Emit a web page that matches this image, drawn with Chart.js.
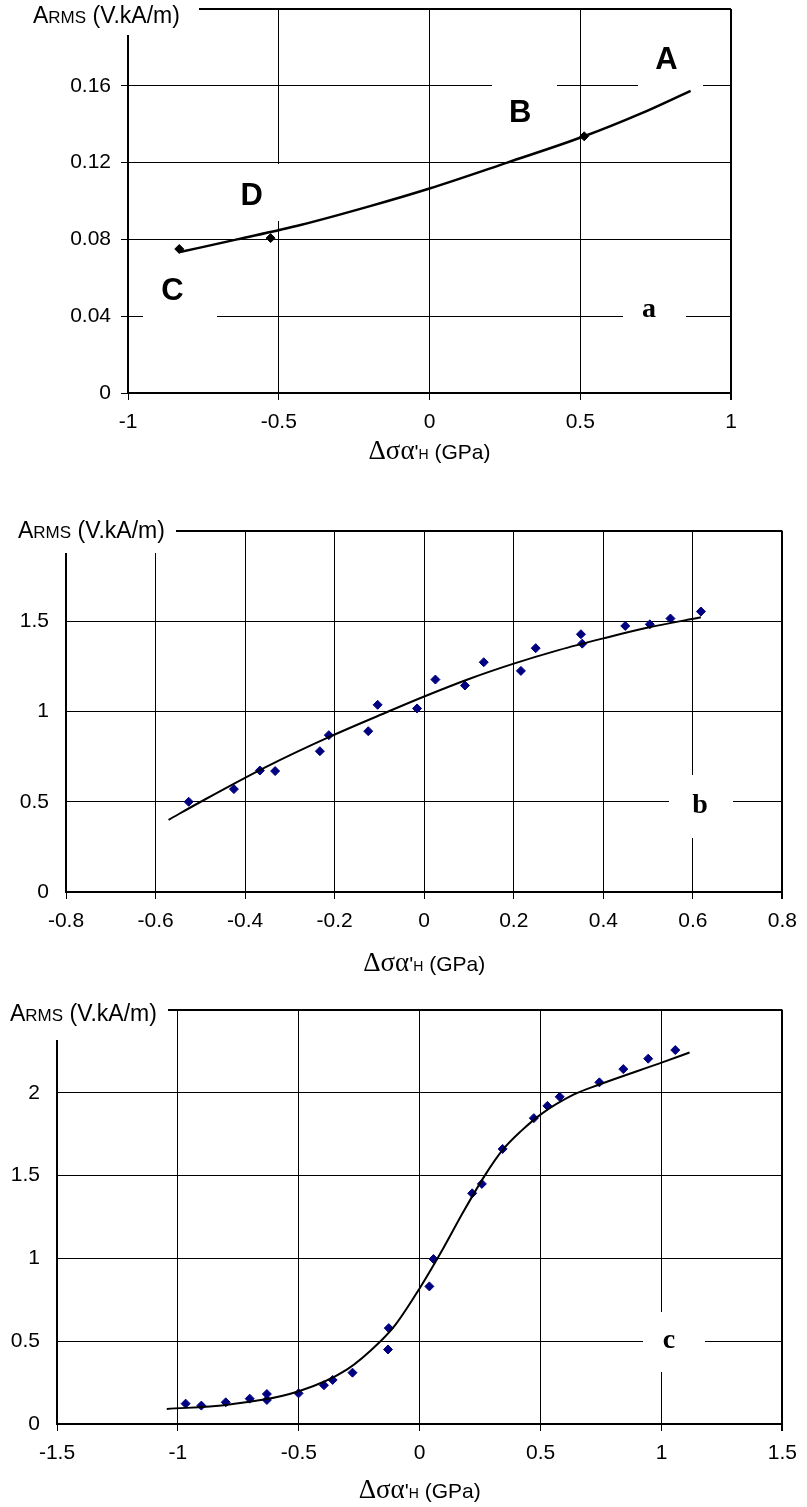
<!DOCTYPE html>
<html>
<head>
<meta charset="utf-8">
<script src="https://cdn.jsdelivr.net/npm/chart.js@4.4.1/dist/chart.umd.min.js"></script>
<style>
  html, body { margin: 0; padding: 0; background: #fff; }
  body { position: relative; width: 807px; height: 1507px; overflow: hidden; }
  canvas { position: absolute; left: 0; }
</style>
</head>
<body>
<canvas id="chart-a" width="807" height="510" style="top:-40px"></canvas>
<canvas id="chart-b" width="807" height="510" style="top:470px"></canvas>
<canvas id="chart-c" width="807" height="527" style="top:980px"></canvas>
<script>
// --- chart a ---
const aPointX = [-0.83, -0.527, 0.513];
const aPointY = [0.075, 0.0807, 0.1337];
const aCurveX = [-0.828, -0.638, -0.428, -0.2, 0, 0.258, 0.513, 0.7, 0.866];
const aCurveY = [0.0734, 0.080, 0.0875, 0.0972, 0.1065, 0.120, 0.1337, 0.1455, 0.1574];
const aTicksX = [-1, -0.5, 0, 0.5, 1];
const aTicksY = [0, 0.04, 0.08, 0.12, 0.16, 0.2];

// --- chart b ---
const bPointX = [-0.526, -0.425, -0.367, -0.333, -0.233, -0.213, -0.125, -0.104, -0.016, 0.025,
  0.091, 0.133, 0.216, 0.249, 0.350, 0.353, 0.449, 0.504, 0.550, 0.618];
const bPointY = [0.50, 0.570, 0.673, 0.670, 0.780, 0.869, 0.891, 1.037, 1.017, 1.177,
  1.144, 1.273, 1.225, 1.351, 1.428, 1.376, 1.474, 1.483, 1.515, 1.554];
const bCurveX = [-0.571, -0.499, -0.354, -0.213, -0.08, 0, 0.1, 0.2, 0.3, 0.4, 0.5, 0.618];
const bCurveY = [0.400, 0.500, 0.692, 0.858, 1.000, 1.083, 1.180, 1.265, 1.340, 1.405, 1.465, 1.522];
const bTicksX = [-0.8, -0.6, -0.4, -0.2, 0, 0.2, 0.4, 0.6, 0.8];
const bTicksY = [0, 0.5, 1, 1.5, 2];

// --- chart c ---
const cPointX = [-0.968, -0.903, -0.802, -0.703, -0.632, -0.632, -0.501, -0.396, -0.36, -0.278,
  -0.128, -0.131, 0.04, 0.057, 0.217, 0.257, 0.343, 0.472, 0.528, 0.579, 0.743, 0.842, 0.945, 1.057];
const cPointY = [0.123, 0.111, 0.131, 0.153, 0.181, 0.145, 0.185, 0.234, 0.266, 0.31,
  0.579, 0.45, 0.831, 0.996, 1.393, 1.45, 1.661, 1.847, 1.921, 1.976, 2.063, 2.143, 2.206, 2.258];
const cCurveX = [-1.046, -0.8, -0.5, -0.3, -0.162, -0.1, 0, 0.097, 0.18, 0.269, 0.343, 0.42, 0.501, 0.638, 0.743, 1.006, 1.116];
const cCurveY = [0.091, 0.115, 0.198, 0.33, 0.5, 0.60, 0.82, 1.06, 1.28, 1.5, 1.655, 1.77, 1.87, 1.99, 2.05, 2.185, 2.243];
const cTicksX = [-1.5, -1, -0.5, 0, 0.5, 1, 1.5];
const cTicksY = [0, 0.5, 1, 1.5, 2, 2.5];

const SANS = '"Liberation Sans", Arial, sans-serif';
const SERIF = '"Liberation Serif", "Times New Roman", serif';
const BIG = 'bold 31px ' + SANS;
const LETTER = 'bold 28px ' + SERIF;

const yTitleRuns = [
  { text: 'A', font: '23px ' + SANS },
  { text: 'RMS', font: '17px ' + SANS },
  { text: ' (V.kA/m)', font: '23px ' + SANS },
];
const xTitleRuns = [
  { text: 'Δσα', font: '27px ' + SERIF },
  { text: '\'', font: '21px ' + SANS },
  { text: 'H', font: '14px ' + SANS },
  { text: ' (GPa)', font: '21px ' + SANS },
];

const zip = (xs, ys) => xs.map((x, i) => ({ x, y: ys[i] }));

function drawRuns(ctx, runs, x, y, align) {
  let w = 0;
  runs.forEach((r) => { ctx.font = r.font; r.w = ctx.measureText(r.text).width; w += r.w; });
  let cx = align === 'center' ? x - w / 2 : x;
  ctx.textAlign = 'left';
  runs.forEach((r) => { ctx.font = r.font; ctx.fillText(r.text, cx, y); cx += r.w; });
}

// white label boxes, titles and letters, in page coordinates
const decor = {
  id: 'decor',
  afterDraw(chart, args, o) {
    const ctx = chart.ctx;
    const area = chart.chartArea;
    ctx.save();
    ctx.translate(0, -o.top);
    ctx.fillStyle = '#fff';
    o.boxes.forEach((b) => ctx.fillRect(b[0], b[1], b[2] - b[0], b[3] - b[1]));
    ctx.fillStyle = '#000';
    ctx.textBaseline = 'alphabetic';
    drawRuns(ctx, yTitleRuns, o.yTitle[0], o.yTitle[1], 'left');
    drawRuns(ctx, xTitleRuns, (area.left + area.right) / 2, o.xTitleY, 'center');
    ctx.textAlign = 'center';
    o.labels.forEach((l) => { ctx.font = l[3]; ctx.fillText(l[0], l[1], l[2]); });
    ctx.restore();
  },
};

function makeChart(id, c) {
  const el = document.getElementById(id);
  const H = el.height;
  const xMax = c.ticksX[c.ticksX.length - 1];
  const yMax = c.ticksY[c.ticksY.length - 1];
  const tickFont = { family: SANS, size: 21 };
  new Chart(el, {
    type: 'scatter',
    data: {
      datasets: [
        {
          data: zip(c.curveX, c.curveY), showLine: true, borderColor: '#000', borderWidth: c.lineW,
          pointRadius: 0, cubicInterpolationMode: 'monotone', fill: false,
        },
        {
          data: zip(c.pointX, c.pointY), pointStyle: 'rectRot', pointRadius: 4.5,
          backgroundColor: c.color, borderColor: c.color, borderWidth: 1,
        },
      ],
    },
    options: {
      responsive: false,
      animation: false,
      devicePixelRatio: 1,
      layout: { padding: { top: c.area.top - c.top, right: 807 - c.area.right, left: 0, bottom: 0 } },
      plugins: { legend: { display: false }, tooltip: { enabled: false }, decor: c.decor },
      scales: {
        x: {
          type: 'linear', min: c.ticksX[0], max: xMax,
          afterBuildTicks: (s) => { s.ticks = c.ticksX.map((v) => ({ value: v })); },
          afterFit: (s) => { s.height = H - (c.area.bottom - c.top); },
          ticks: { callback: (v) => String(v), font: tickFont, color: '#000', padding: 10, maxRotation: 0, autoSkip: false },
          grid: { color: '#000', lineWidth: (x) => (x.tick && x.tick.value === xMax ? 2 : 1), tickLength: 7, tickColor: '#000' },
          border: { color: '#000', width: 2 },
        },
        y: {
          type: 'linear', min: c.ticksY[0], max: yMax,
          afterBuildTicks: (s) => { s.ticks = c.ticksY.map((v) => ({ value: v })); },
          afterFit: (s) => { s.width = c.area.left; },
          ticks: { callback: (v) => String(v), font: tickFont, color: '#000', padding: 10, autoSkip: false },
          grid: { color: '#000', lineWidth: (x) => (x.tick && x.tick.value === yMax ? 2 : 1), tickLength: 7, tickColor: c.yTickColor },
          border: { color: '#000', width: 2 },
        },
      },
    },
    plugins: [decor],
  });
}

makeChart('chart-a', {
  top: -40, area: { left: 128, right: 731, top: 9, bottom: 393 },
  pointX: aPointX, pointY: aPointY, curveX: aCurveX, curveY: aCurveY,
  ticksX: aTicksX, ticksY: aTicksY, color: '#000', lineW: 2.5, yTickColor: '#000',
  decor: {
    top: -40, yTitle: [33, 23], xTitleY: 459,
    boxes: [[0, -60, 199, 35], [638, 28, 703, 88], [492, 80, 557, 139], [223, 164, 288, 221], [143, 258, 217, 320], [623, 282, 686, 338]],
    labels: [['A', 666.5, 69, BIG], ['B', 520.3, 121.5, BIG], ['D', 251.7, 205, BIG], ['C', 172.5, 299.5, BIG], ['a', 649, 316.5, LETTER]],
  },
});

makeChart('chart-b', {
  top: 470, area: { left: 66, right: 791, top: 531, bottom: 892 },
  pointX: bPointX, pointY: bPointY, curveX: bCurveX, curveY: bCurveY,
  ticksX: bTicksX, ticksY: bTicksY, color: '#000080', lineW: 2, yTickColor: 'rgba(0,0,0,0)',
  decor: {
    top: 470, yTitle: [18, 538], xTitleY: 971,
    boxes: [[0, 470, 176, 553], [669, 775, 733, 838]],
    labels: [['b', 700, 813, LETTER]],
  },
});

makeChart('chart-c', {
  top: 980, area: { left: 57, right: 793, top: 1010, bottom: 1424 },
  pointX: cPointX, pointY: cPointY, curveX: cCurveX, curveY: cCurveY,
  ticksX: cTicksX, ticksY: cTicksY, color: '#000080', lineW: 2, yTickColor: 'rgba(0,0,0,0)',
  decor: {
    top: 980, yTitle: [10, 1021], xTitleY: 1498,
    boxes: [[0, 980, 168, 1040], [643, 1312, 705, 1372]],
    labels: [['c', 669, 1348, LETTER]],
  },
});
</script>
</body>
</html>
